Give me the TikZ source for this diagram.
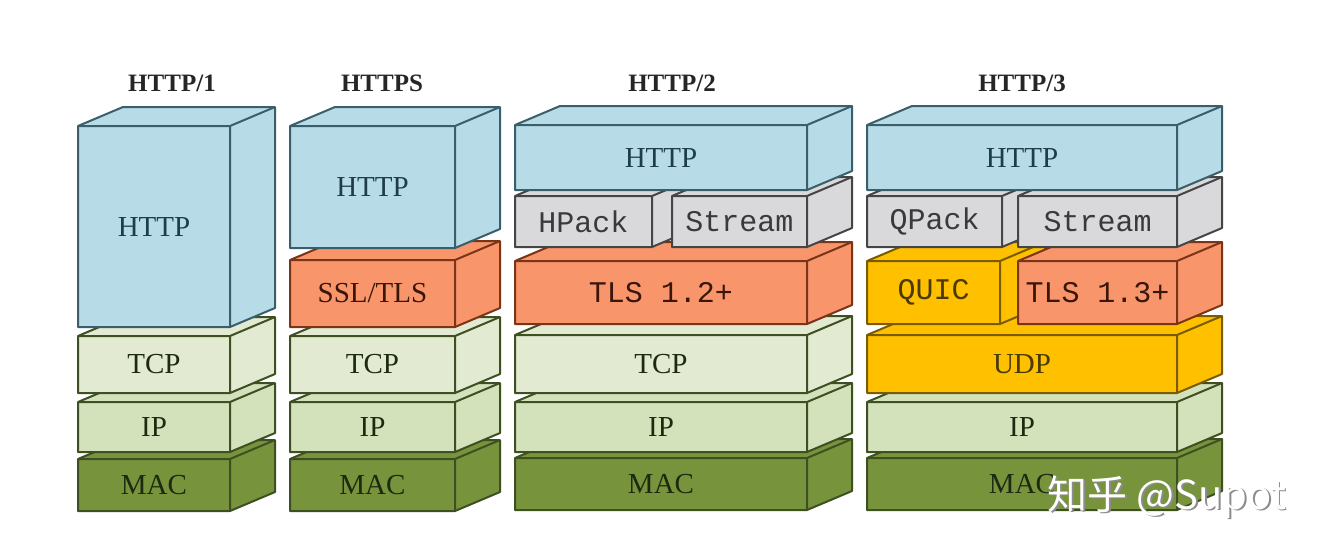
\documentclass[tikz,border=0pt]{standalone}
\usepackage{fontspec}
\setmainfont{Liberation Serif}
\newfontfamily\monof{Liberation Mono}
\newfontfamily\cjkf{Noto Sans CJK SC}
\definecolor{cHttp}{HTML}{B7DCE8}
\definecolor{dHttp}{HTML}{3A5E6A}
\definecolor{tHttp}{HTML}{1F3D48}
\definecolor{cGray}{HTML}{D9D9DB}
\definecolor{dGray}{HTML}{454545}
\definecolor{tGray}{HTML}{3A3A3A}
\definecolor{cOrg}{HTML}{F8956A}
\definecolor{dOrg}{HTML}{7A3418}
\definecolor{tOrg}{HTML}{3A160A}
\definecolor{cYel}{HTML}{FFC000}
\definecolor{dYel}{HTML}{7A5C00}
\definecolor{tYel}{HTML}{4A3A00}
\definecolor{cTcp}{HTML}{E2EBD2}
\definecolor{cIp}{HTML}{D3E2BB}
\definecolor{cMac}{HTML}{77933C}
\definecolor{dGrn}{HTML}{3E4F22}
\definecolor{tGrn}{HTML}{1E2A10}
\tikzset{
  lybase/.style={line width=2pt, line join=round},
  lyhttp/.style={lybase, fill=cHttp, draw=dHttp, text=tHttp},
  lygray/.style={lybase, fill=cGray, draw=dGray, text=tGray},
  lyorg/.style={lybase, fill=cOrg, draw=dOrg, text=tOrg},
  lyyel/.style={lybase, fill=cYel, draw=dYel, text=tYel},
  lytcp/.style={lybase, fill=cTcp, draw=dGrn, text=tGrn},
  lyip/.style={lybase, fill=cIp, draw=dGrn, text=tGrn},
  lymac/.style={lybase, fill=cMac, draw=dGrn, text=tGrn},
  lser/.style={font=\fontsize{29}{34}\selectfont},
  lmono/.style={font=\monof\fontsize{30}{34}\selectfont},
  ttl/.style={font=\bfseries\fontsize{25}{30}\selectfont, text=black!85},
  wmark/.style={font=\cjkf\fontsize{40}{46}\selectfont}
}
% #1 name, #2 x1, #3 top, #4 x2, #5 bottom, #6 style, #7 label style, #8 label
\newcommand\lyr[8]{%
  \filldraw[#6] (#2,#3) -- (#2+45,#3-19) -- (#4+45,#3-19) -- (#4+45,#5-19) -- (#4,#5) -- (#2,#5) -- cycle;
  \draw[#6, fill=none] (#2,#3) -- (#4,#3) -- (#4+45,#3-19) (#4,#3) -- (#4,#5);
  \node[#6, draw=none, fill=none, #7, inner sep=0pt] (#1) at ({(#2+#4)/2},{(#3+#5)/2}) {#8};
}
\begin{document}
\begin{tikzpicture}[x=1pt,y=-1pt]
\useasboundingbox[fill=white] (0,0) rectangle (1320,558);
% titles
\node[ttl] (t1) at (172,83) {HTTP/1};
\node[ttl] (t2) at (382,83) {HTTPS};
\node[ttl] (t3) at (672,83) {HTTP/2};
\node[ttl] (t4) at (1022,83) {HTTP/3};
% column 1
\lyr{a5}{78}{459}{230}{511}{lymac}{lser}{MAC}
\lyr{a4}{78}{402}{230}{452}{lyip}{lser}{IP}
\lyr{a3}{78}{336}{230}{393}{lytcp}{lser}{TCP}
\lyr{a1}{78}{126}{230}{327}{lyhttp}{lser}{HTTP}
% column 2
\lyr{b5}{290}{459}{455}{511}{lymac}{lser}{MAC}
\lyr{b4}{290}{402}{455}{452}{lyip}{lser}{IP}
\lyr{b3}{290}{336}{455}{393}{lytcp}{lser}{TCP}
\lyr{b2}{290}{260}{455}{327}{lyorg}{lser}{SSL/TLS}
\lyr{b1}{290}{126}{455}{248}{lyhttp}{lser}{HTTP}
% column 3
\lyr{c6}{515}{458}{807}{510}{lymac}{lser}{MAC}
\lyr{c5}{515}{402}{807}{452}{lyip}{lser}{IP}
\lyr{c4}{515}{335}{807}{393}{lytcp}{lser}{TCP}
\lyr{c3}{515}{261}{807}{324}{lyorg}{lmono}{TLS 1.2+}
\lyr{c2a}{515}{196}{652}{247}{lygray}{lmono}{HPack}
\lyr{c2b}{672}{196}{807}{247}{lygray}{lmono}{Stream}
\lyr{c1}{515}{125}{807}{190}{lyhttp}{lser}{HTTP}
% column 4
\lyr{d6}{867}{458}{1177}{510}{lymac}{lser}{MAC}
\lyr{d5}{867}{402}{1177}{452}{lyip}{lser}{IP}
\lyr{d4}{867}{335}{1177}{393}{lyyel}{lser}{UDP}
\lyr{d3a}{867}{261}{1000}{324}{lyyel}{lmono}{QUIC}
\lyr{d3b}{1018}{261}{1177}{324}{lyorg}{lmono}{TLS 1.3+}
\lyr{d2a}{867}{196}{1002}{247}{lygray}{lmono}{QPack}
\lyr{d2b}{1018}{196}{1177}{247}{lygray}{lmono}{Stream}
\lyr{d1}{867}{125}{1177}{190}{lyhttp}{lser}{HTTP}
% watermark
\node[wmark, text=black!45] (wmsh) at (1168.5,498.5) {知乎 @Supot};
\node[wmark, text=white] (wm) at (1167,497) {知乎 @Supot};
\end{tikzpicture}
\end{document}
